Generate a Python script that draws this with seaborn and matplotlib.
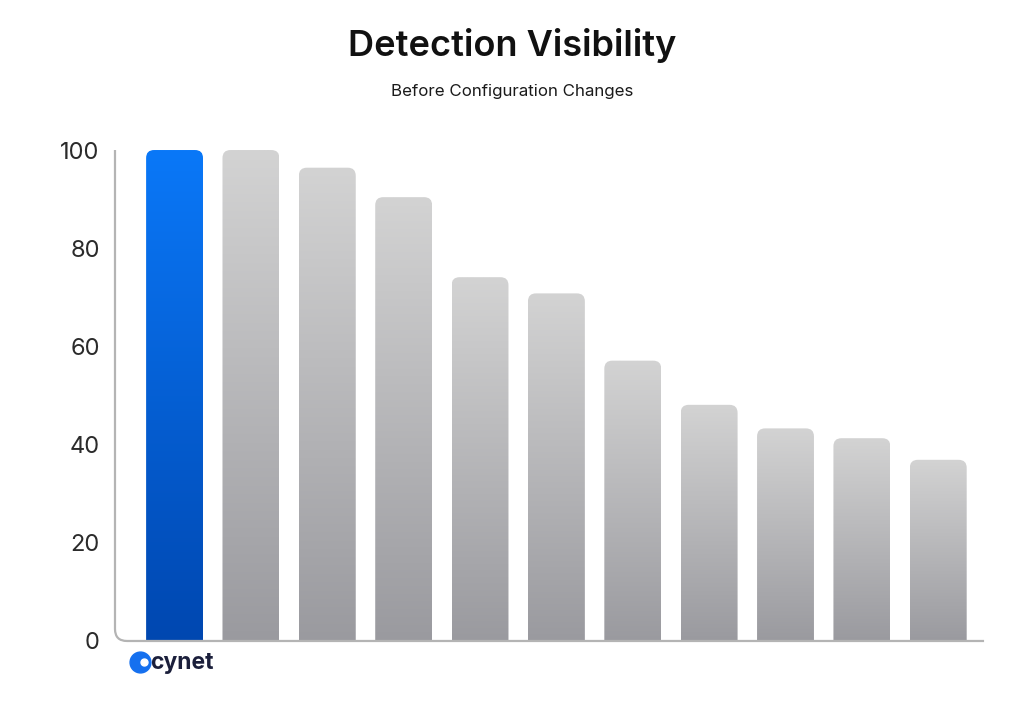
import numpy as np
import pandas as pd
import seaborn as sns
import matplotlib.pyplot as plt
from matplotlib.patches import FancyBboxPatch, PathPatch
from matplotlib.path import Path
from matplotlib.colors import LinearSegmentedColormap

# values (bar 1 = Cynet, others unlabeled vendors)
vendors = ['Cynet', 'V2', 'V3', 'V4', 'V5', 'V6', 'V7', 'V8', 'V9', 'V10', 'V11']
visibility = [100, 100, 96.4, 90.4, 74.1, 70.8, 57.1, 48.1, 43.3, 41.3, 36.9]
yticks = [0, 20, 40, 60, 80, 100]

df = pd.DataFrame({'vendor': vendors, 'visibility': visibility})

sns.set_style('white')
plt.rcParams['font.family'] = ['Inter', 'DejaVu Sans']

fig = plt.figure(figsize=(10.24, 7.13), dpi=100)
ax = fig.add_axes([0.1123, 0.101, 0.961 - 0.1123, 0.7896 - 0.101])

sns.barplot(data=df, x='vendor', y='visibility', width=0.745, ax=ax, color='#cccccc')

ax.set_xlim(-0.78, 10.6)
ax.set_ylim(0, 100)

# px per data unit, used to keep corners round
bbox = ax.get_window_extent()
px_x = bbox.width / (10.6 + 0.78)
px_y = bbox.height / 100
aspect = px_x / px_y
rad = 8 / px_x

blue = LinearSegmentedColormap.from_list('blue', ['#0047b0', '#0a78f8'])
grey = LinearSegmentedColormap.from_list('grey', ['#9a9a9f', '#d3d3d3'])
grad = np.linspace(0, 1, 256).reshape(-1, 1)

for i, p in enumerate(list(ax.patches)):
    x, y0, w, h = p.get_x(), p.get_y(), p.get_width(), p.get_height()
    p.set_visible(False)
    box = FancyBboxPatch((x, -10), w, h + 10,
                         boxstyle=f'round,pad=0,rounding_size={rad}',
                         mutation_aspect=aspect, facecolor='none',
                         edgecolor='none')
    ax.add_patch(box)
    im = ax.imshow(grad, cmap=blue if i == 0 else grey, origin='lower',
                   extent=(x, x + w, 0, h), aspect='auto', zorder=2)
    im.set_clip_path(box)

ax.set_xlim(-0.78, 10.6)
ax.set_ylim(0, 100)

# axis line with rounded bottom-left corner
for s in ax.spines.values():
    s.set_visible(False)
x0, x1 = -0.78, 10.6
rx, ry = 12 / px_x, 12 / px_y
verts = [(x0, 100), (x0, ry), (x0, 0), (x0 + rx, 0), (x1, 0)]
codes = [Path.MOVETO, Path.LINETO, Path.CURVE3, Path.CURVE3, Path.LINETO]
ax.add_patch(PathPatch(Path(verts, codes), fill=False, edgecolor='#b4b4b4',
                       lw=1.6, clip_on=False, zorder=3))

ax.set_yticks(yticks)
ax.set_yticklabels([str(t) for t in yticks], fontsize=17, color='#2b2b2b')
ax.tick_params(axis='y', length=0, pad=11)
ax.set_xticks([])
ax.set_xlabel('')
ax.set_ylabel('')

fig.text(0.5, 0.922, 'Detection Visibility', ha='center', va='baseline',
         fontsize=26, fontweight='semibold', color='#111111')
fig.text(0.5, 0.866, 'Before Configuration Changes', ha='center', va='baseline',
         fontsize=12.2, color='#1a1a1a')

# cynet logo
ax.plot([0.029], [-0.043], marker='o', markersize=15, color='#1570ef',
        transform=ax.transAxes, clip_on=False)
ax.plot([0.033], [-0.043], marker='o', markersize=5, color='white',
        transform=ax.transAxes, clip_on=False)
fig.text(0.1465, 0.0705, 'cynet', ha='left', va='center', fontsize=16.5,
         fontweight='bold', color='#1b1f3b')

fig.savefig('out.png', dpi=100, facecolor='white')
